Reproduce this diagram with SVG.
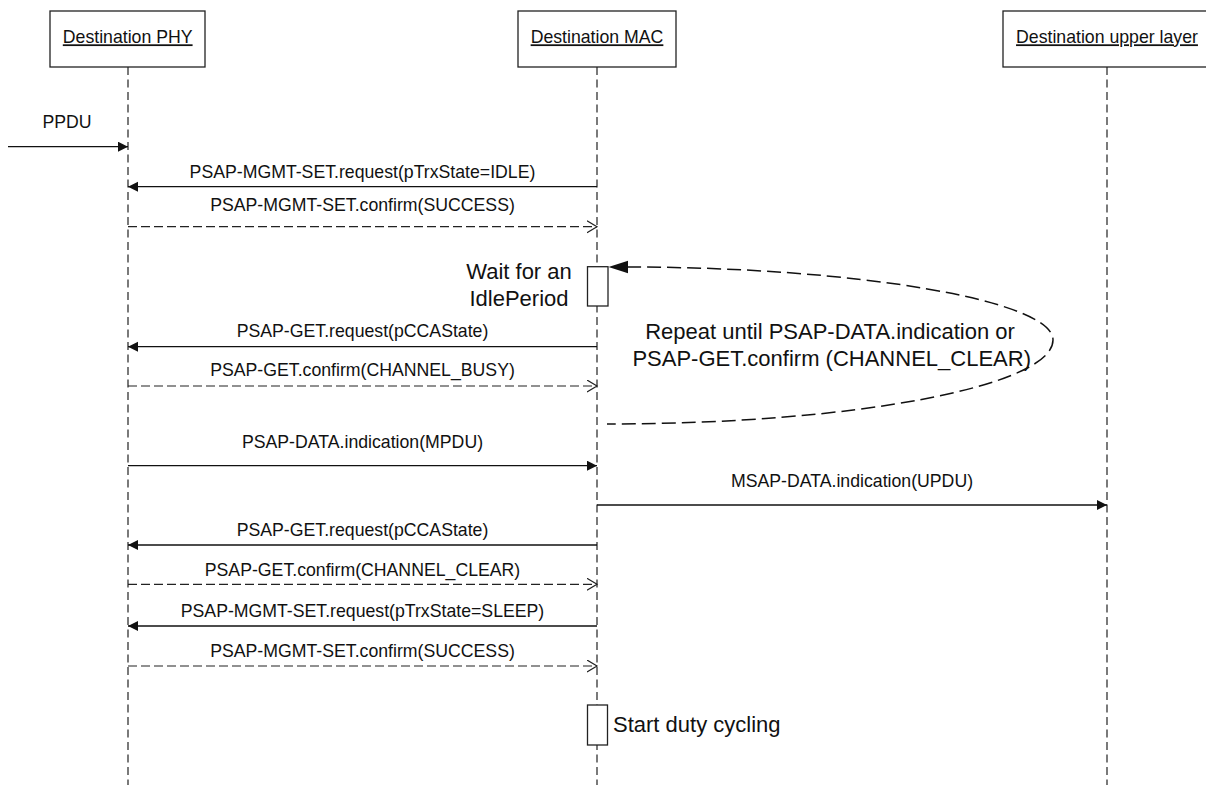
<svg xmlns="http://www.w3.org/2000/svg" width="1206" height="785" viewBox="0 0 1206 785">
  <style>
    text { font-family: "Liberation Sans", Arial, sans-serif; fill: #111; }
    .lbl { font-size: 17.7px; text-anchor: middle; }
    .big { font-size: 22px; }
    .box { fill: #fff; stroke: #222; stroke-width: 1.3; }
    .life { stroke: #333; stroke-width: 1.3; stroke-dasharray: 8 4.5; fill: none; }
    .sync { stroke: #111; stroke-width: 1.3; fill: none; marker-end: url(#filled); }
    .reply { stroke: #222; stroke-width: 1.2; fill: none; stroke-dasharray: 9 4; marker-end: url(#open); }
    .loop { stroke: #111; stroke-width: 1.5; fill: none; stroke-dasharray: 14 6; }
  </style>
  <defs>
    <marker id="filled" markerUnits="userSpaceOnUse" markerWidth="11" markerHeight="11" refX="10" refY="5" orient="auto">
      <path d="M0,0 L10,5 L0,10 Z" fill="#111"/>
    </marker>
    <marker id="open" markerUnits="userSpaceOnUse" markerWidth="12" markerHeight="14" refX="10.5" refY="6.5" orient="auto">
      <path d="M0.5,0.5 L10.5,6.5 L0.5,12.5" fill="none" stroke="#222" stroke-width="1.2"/>
    </marker>
  </defs>

  <rect width="1206" height="785" fill="#fff"/>

  <!-- participants -->
  <g id="dest-phy">
    <line class="life" x1="128" y1="67" x2="128" y2="785"/>
    <rect class="box" x="50" y="11" width="155" height="56"/>
    <text class="lbl" x="127.7" y="43.3" text-decoration="underline">Destination PHY</text>
  </g>
  <g id="dest-mac">
    <line class="life" x1="597" y1="67" x2="597" y2="785"/>
    <rect class="box" x="518" y="11" width="158" height="56"/>
    <text class="lbl" x="597" y="43.3" text-decoration="underline">Destination MAC</text>
  </g>
  <g id="dest-upper">
    <line class="life" x1="1107" y1="67" x2="1107" y2="785"/>
    <rect class="box" x="1003" y="11" width="210" height="56"/>
    <text class="lbl" x="1107" y="43.3" text-decoration="underline">Destination upper layer</text>
  </g>

  <!-- activations on the MAC lifeline -->
  <g id="wait-idle">
    <rect class="box" x="587.5" y="266.7" width="20.5" height="39.3"/>
    <text class="big" x="519" y="279" text-anchor="middle">Wait for an</text>
    <text class="big" x="519" y="305.7" text-anchor="middle">IdlePeriod</text>
  </g>
  <g id="duty-cycling">
    <rect class="box" x="587.5" y="705" width="20" height="40"/>
    <text class="big" x="613" y="732">Start duty cycling</text>
  </g>
  <g id="repeat-note">
    <text class="big" x="830" y="339" text-anchor="middle">Repeat until PSAP-DATA.indication or</text>
    <text class="big" x="831.7" y="365.7" text-anchor="middle">PSAP-GET.confirm (CHANNEL_CLEAR)</text>
  </g>

  <!-- messages -->
  <g id="connectors">
    <line class="sync" x1="8" y1="146.7" x2="128" y2="146.7"/>
    <text class="lbl" x="67" y="128">PPDU</text>

    <line class="sync" x1="597" y1="186.7" x2="128" y2="186.7"/>
    <text class="lbl" x="362.5" y="178">PSAP-MGMT-SET.request(pTrxState=IDLE)</text>

    <line class="reply" x1="128" y1="226.7" x2="597" y2="226.7"/>
    <text class="lbl" x="362.5" y="210.5">PSAP-MGMT-SET.confirm(SUCCESS)</text>

    <!-- repeat loop back to the idle wait -->
    <path class="loop" d="M627,267 C854,267 1053,300 1053,340 C1053,386 854,424 607,424"/>
    <polygon points="608.5,267 628,260.7 628,273.3" fill="#111"/>

    <line class="sync" x1="597" y1="346.7" x2="128" y2="346.7"/>
    <text class="lbl" x="362.5" y="337">PSAP-GET.request(pCCAState)</text>

    <line class="reply" x1="128" y1="386" x2="597" y2="386"/>
    <text class="lbl" x="362.5" y="376">PSAP-GET.confirm(CHANNEL_BUSY)</text>

    <line class="sync" x1="128" y1="465.7" x2="597" y2="465.7"/>
    <text class="lbl" x="362.5" y="448">PSAP-DATA.indication(MPDU)</text>

    <line class="sync" x1="597" y1="505" x2="1107" y2="505"/>
    <text class="lbl" x="852" y="487">MSAP-DATA.indication(UPDU)</text>

    <line class="sync" x1="597" y1="545" x2="128" y2="545"/>
    <text class="lbl" x="362.5" y="535.5">PSAP-GET.request(pCCAState)</text>

    <line class="reply" x1="128" y1="584.3" x2="597" y2="584.3"/>
    <text class="lbl" x="362.5" y="576">PSAP-GET.confirm(CHANNEL_CLEAR)</text>

    <line class="sync" x1="597" y1="626" x2="128" y2="626"/>
    <text class="lbl" x="362.5" y="616.5">PSAP-MGMT-SET.request(pTrxState=SLEEP)</text>

    <line class="reply" x1="128" y1="666" x2="597" y2="666"/>
    <text class="lbl" x="362.5" y="656.5">PSAP-MGMT-SET.confirm(SUCCESS)</text>
  </g>
</svg>
